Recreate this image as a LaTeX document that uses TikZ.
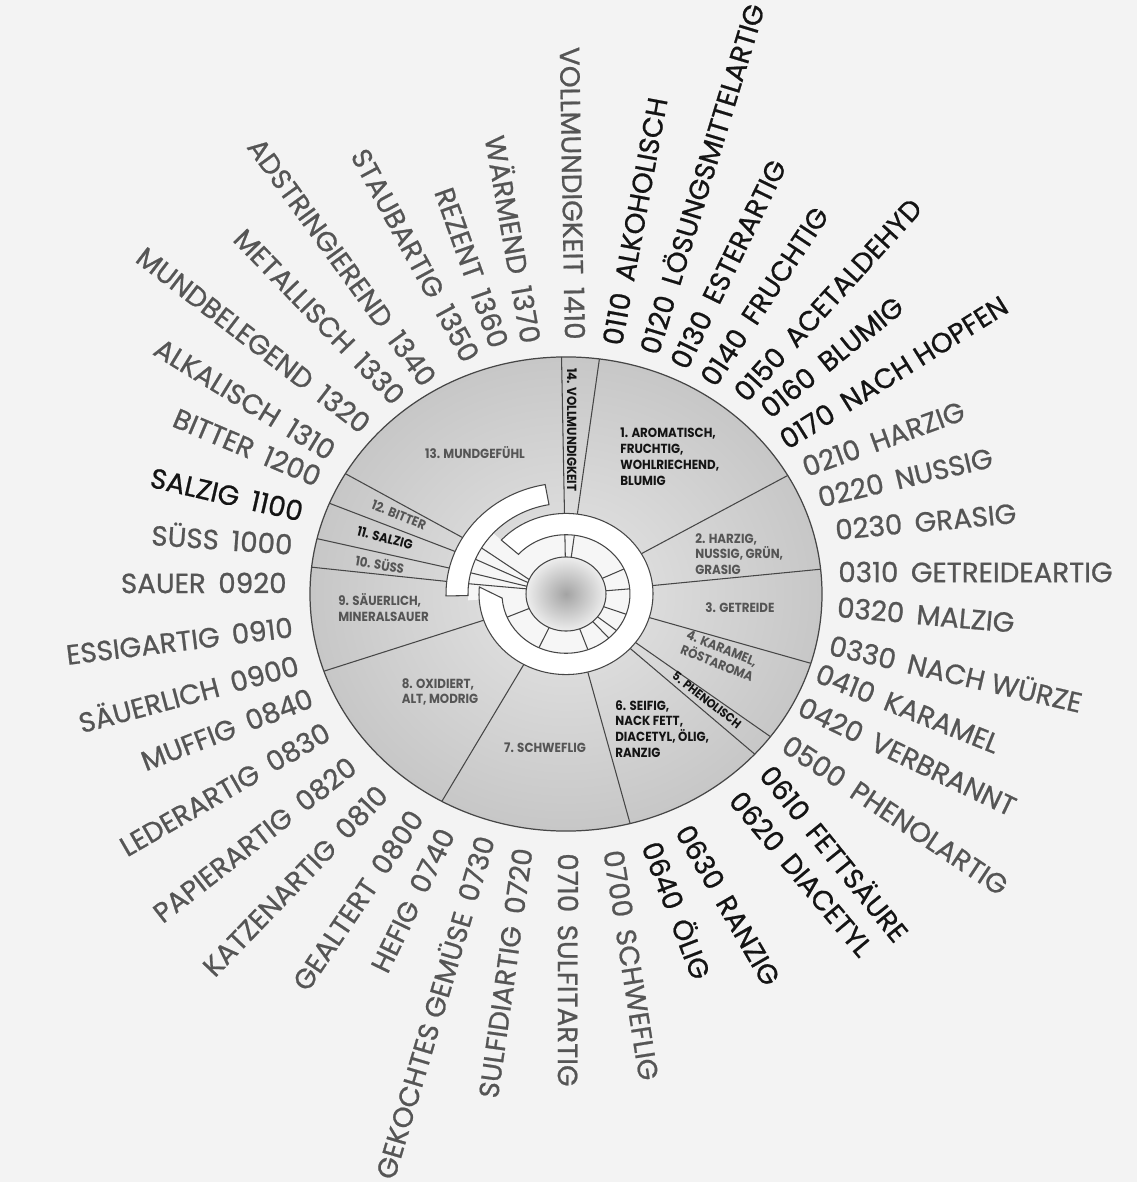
\documentclass[tikz,border=0pt]{standalone}
\usepackage{fontspec}
\setmainfont{Poppins}
\newfontfamily\labelfont[FakeBold=0.8]{Poppins}
\newfontfamily\narrowfont[FakeStretch=0.9]{Poppins}
\usetikzlibrary{positioning}
\definecolor{paper}{RGB}{243,243,243}
\definecolor{rim}{RGB}{70,70,70}
\definecolor{inkgray}{RGB}{85,85,85}
\definecolor{inkblack}{RGB}{20,20,20}
\newcommand\codegap{\hspace{0.45em}}

\begin{document}
\begin{tikzpicture}[
  x=0.02cm, y=0.02cm,
  rlab/.style={anchor=west, inner sep=0pt, font=\labelfont\fontsize{15.8}{15.8}\selectfont},
  llab/.style={anchor=east, inner sep=0pt, font=\labelfont\fontsize{15.8}{15.8}\selectfont},
  seclab/.style={inner sep=0pt, align=left, text=inkgray,
                 font=\narrowfont\bfseries\fontsize{7.5}{9}\selectfont},
  darklab/.style={seclab, text=inkblack},
  spoke/.style={draw=rim, line width=0.6pt},
  band/.style={fill=white, draw=rim, line width=0.6pt},
]

\useasboundingbox (-566,-588) rectangle (571,594);
\fill[paper] (-566,-588) rectangle (571,594);

% wheel (the scan is slightly squeezed vertically)
\begin{scope}[yscale=0.926]
  \coordinate (hub) at (0,0);
  \shade[inner color=gray!20, outer color=gray!44] (hub) circle (256);
  \fill[gray!7] (hub) circle (64);
  \fill[gray!7] (hub) -- (138:98) arc[start angle=138, end angle=184, radius=98] -- cycle;

  \foreach \a in {91,82.5}
    \draw[spoke] (\a:40) -- (\a:256);
  \foreach \a in {30,6,-17,-37,-42.5,-75.5,-119,-161}
    \draw[spoke] (\a:87) -- (\a:256);
  \foreach \a/\b in {149.5/157,157.5/162,166.5/168,173.5/172}
    \draw[spoke] (\a:256) -- (\a:98) -- (\b:40);
  \foreach \a in {25,5,-20,-38,-48,-70,-115,-157}
    \draw[spoke] (\a:40) -- (\a:64);

  % inner ring and outer arc
  \draw[band] (175:87) arc[start angle=175, end angle=498, radius=87]
    -- (498:64) arc[start angle=498, end angle=184, radius=64] -- cycle;
  \draw[band] (100:120) arc[start angle=100, end angle=181, radius=120]
    -- (181:98) arc[start angle=181, end angle=100, radius=98] -- cycle;

  \shade[inner color=gray!72, outer color=gray!14] (hub) circle (40);
  \draw[rim, line width=0.6pt] (hub) circle (40);
  \draw[rim, line width=0.7pt] (hub) circle (256);
\end{scope}

% sector names
\node[darklab, rotate=-90] (s14) at (6,164) {14. VOLLMUNDIGKEIT};
\node[darklab, anchor=north west] (s1) at (54,166) {1. AROMATISCH,\\FRUCHTIG,\\WOHLRIECHEND,\\BLUMIG};
\node[seclab, anchor=north west] (s2) at (129,61) {2. HARZIG,\\NUSSIG, GRÜN,\\GRASIG};
\node[seclab] (s3) at (174,-14) {3. GETREIDE};
\node[seclab, rotate=-22] (s4) at (154,-62) {4. KARAMEL,\\RÖSTAROMA};
\node[darklab, rotate=-38, font=\narrowfont\bfseries\fontsize{7}{8}\selectfont] (s5) at (141,-106) {5. PHENOLISCH};
\node[darklab, anchor=north west] (s6) at (49,-106) {6. SEIFIG,\\NACK FETT,\\DIACETYL, ÖLIG,\\RANZIG};
\node[seclab] (s7) at (-21,-154) {7. SCHWEFLIG};
\node[seclab] (s8) at (-126,-98) {8. OXIDIERT,\\ALT, MODRIG};
\node[seclab, anchor=north west] (s9) at (-228,1) {9. SÄUERLICH,\\MINERALSAUER};
\node[seclab, rotate=-10] (s10) at (-186,30) {10. SÜSS};
\node[darklab, rotate=-15] (s11) at (-181,56) {11. SALZIG};
\node[seclab, rotate=-22] (s12) at (-167,79) {12. BITTER};
\node[seclab] (s13) at (-91,141) {13. MUNDGEFÜHL};

% descriptors, right half: code first (pixel position of the inner end)
\foreach \px/\py/\rot/\txt/\col [count=\i] in {
  612/345/79.5/0110\codegap ALKOHOLISCH/inkblack,
  647/353/73/0120\codegap LÖSUNGSMITTELARTIG/inkblack,
  678/367/64/0130\codegap ESTERARTIG/inkblack,
  707/383/56.5/0140\codegap FRUCHTIG/inkblack,
  739/397/47.6/0150\codegap ACETALDEHYD/inkblack,
  764/412/39/0160\codegap BLUMIG/inkblack,
  782/442/32/0170\codegap NACH HOPFEN/inkblack,
  803/468/20/0210\codegap HARZIG/inkgray,
  818/498/13.3/0220\codegap NUSSIG/inkgray,
  835/530/5.4/0230\codegap GRASIG/inkgray,
  838/572/0/0310\codegap GETREIDEARTIG/inkgray,
  837/607/-5/0320\codegap MALZIG/inkgray,
  830/643/-13/0330\codegap NACH WÜRZE/inkgray,
  817/672/-21.8/0410\codegap KARAMEL/inkgray,
  800/705/-25.6/0420\codegap VERBRANNT/inkgray,
  785/742/-33.6/0500\codegap PHENOLARTIG/inkgray,
  767/768/-51/0610\codegap FETTSÄURE/inkblack,
  735/795/-50/0620\codegap DIACETYL/inkblack,
  683/827/-60/0630\codegap RANZIG/inkblack,
  652/842/-69/0640\codegap ÖLIG/inkblack,
  613/850/-81/0700\codegap SCHWEFLIG/inkgray,
  568/853/-90/0710\codegap SULFITARTIG/inkgray}
  \node[rlab, text=\col, rotate=\rot] (r\i) at ({\px-566},{594-\py}) {\txt};

% descriptors, left half: code last
\foreach \px/\py/\rot/\txt/\col [count=\i] in {
  523/848/82/SULFIDIARTIG\codegap 0720/inkgray,
  484/836/73.5/GEKOCHTES GEMÜSE\codegap 0730/inkgray,
  447/830/64/HEFIG\codegap 0740/inkgray,
  417/813/56/GEALTERT\codegap 0800/inkgray,
  383/790/46/KATZENARTIG\codegap 0810/inkgray,
  353/763/38/PAPIERARTIG\codegap 0820/inkgray,
  328/730/30/LEDERARTIG\codegap 0830/inkgray,
  312/697/21/MUFFIG\codegap 0840/inkgray,
  298/663/15/SÄUERLICH\codegap 0900/inkgray,
  293/627/7/ESSIGARTIG\codegap 0910/inkgray,
  287/583/0/SAUER\codegap 0920/inkgray,
  293/543/-4/SÜSS\codegap 1000/inkgray,
  303/512/-13/SALZIG\codegap 1100/inkblack,
  320/478/-23/BITTER\codegap 1200/inkgray,
  333/453/-31.5/ALKALISCH\codegap 1310/inkgray,
  367/427/-37.5/MUNDBELEGEND\codegap 1320/inkgray,
  400/400/-46/METALLISCH\codegap 1330/inkgray,
  430/383/-54/ADSTRINGIEREND\codegap 1340/inkgray,
  472/360/-61.6/STAUBARTIG\codegap 1350/inkgray,
  500/347/-70.4/REZENT\codegap 1360/inkgray,
  533/343/-80/WÄRMEND\codegap 1370/inkgray,
  575/340/-89/VOLLMUNDIGKEIT\codegap 1410/inkgray}
  \node[llab, text=\col, rotate=\rot] (l\i) at ({\px-566},{594-\py}) {\txt};

\end{tikzpicture}
\end{document}
